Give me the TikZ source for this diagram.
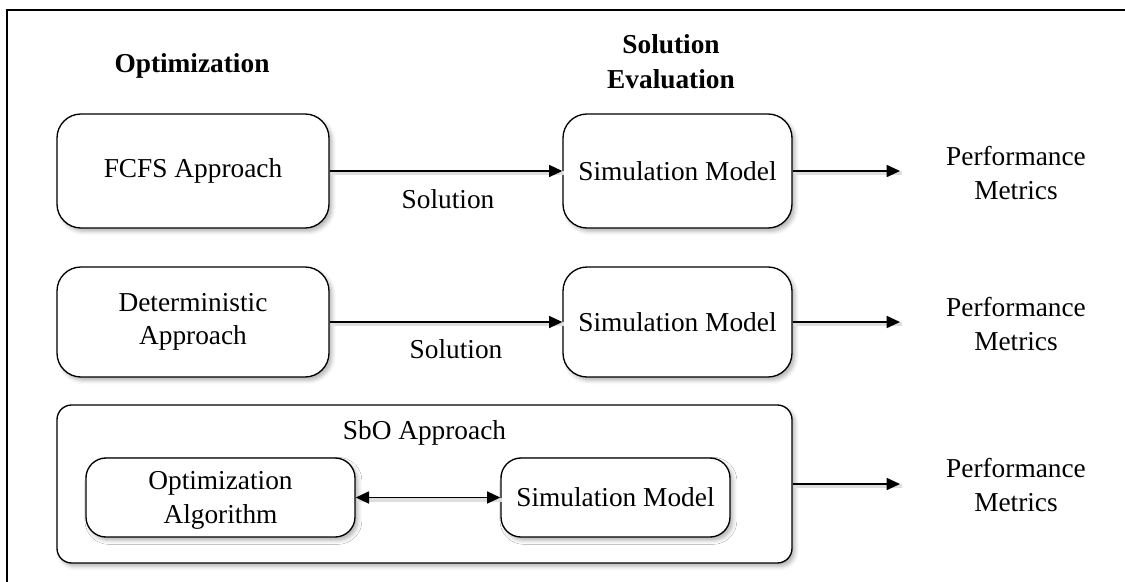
\documentclass[tikz,border=0pt]{standalone}
\usepackage{fontspec}
\setmainfont{Liberation Serif}
\usetikzlibrary{arrows.meta,shadows.blur}
\begin{document}
\begin{tikzpicture}[x=0.75pt,y=-0.75pt,
  txt/.style={font=\fontsize{20.5}{25}\selectfont, align=center, inner sep=0pt},
  hdr/.style={font=\fontsize{20.5}{26}\selectfont\bfseries, align=center, inner sep=0pt},
  rbox/.style={draw, line width=1pt, rounded corners=18pt, fill=white,
    blur shadow={shadow xshift=2.2pt, shadow yshift=-2.5pt, shadow blur radius=3pt, shadow opacity=30}, txt},
  ibox/.style={rbox, rounded corners=15pt},
  sbox/.style={rbox, rounded corners=11pt},
  lshadow/.style={preaction={draw=black!13, line width=3pt, -, transform canvas={xshift=1.2pt, yshift=-1.5pt}}},
  conn/.style={line width=1.3pt, lshadow, -{Triangle[length=10pt,width=9pt]}},
  dconn/.style={line width=1.3pt, lshadow, {Triangle[length=10pt,width=9pt]}-{Triangle[length=10pt,width=9pt]}},
]
\useasboundingbox (0,0) rectangle (1125,582);
\begin{scope}
  \clip (0,0) rectangle (1125,582);
  \draw[line width=2pt] (7,10) rectangle (1140,600);
\end{scope}

% headers
\node[hdr] (hopt) at (192,66) {Optimization};
\node[hdr] (heval) at (671,62) {Solution\\Evaluation};

% row 1
\node[rbox, minimum width=204pt, minimum height=85.5pt] (fcfs) at (193,171) {FCFS Approach};
\node[rbox, minimum width=171.75pt, minimum height=85.5pt] (sim1) at (677.5,171) {Simulation Model};
\node[txt] (pm1) at (1016,173) {Performance\\Metrics};
\coordinate (e1) at (900,171);
\draw[conn] (fcfs.east) -- (sim1.west);
\draw[conn] (sim1.east) -- (e1);
\node[txt] (sol1) at (448,199) {Solution};

% row 2
\node[rbox, minimum width=204pt, minimum height=82.5pt] (det) at (193,322) {Deterministic\\Approach};
\node[rbox, minimum width=171.75pt, minimum height=82.5pt] (sim2) at (677.5,322) {Simulation Model};
\node[txt] (pm2) at (1016,324) {Performance\\Metrics};
\coordinate (e2) at (900,322);
\draw[conn] (det.east) -- (sim2.west);
\draw[conn] (sim2.east) -- (e2);
\node[txt] (sol2) at (456,349) {Solution};

% row 3
\node[sbox, minimum width=551.25pt, minimum height=118.5pt] (sbo) at (424.5,484) {};
\node[txt] (sbol) at (424.5,433) {SbO Approach};
\node[ibox, minimum width=201.75pt, minimum height=59.25pt, text depth=0pt] (alg) at (220.5,497.5) {Optimization\\Algorithm};
\node[ibox, minimum width=171.75pt, minimum height=59.25pt] (sim3) at (615.5,497.5) {Simulation Model};
\draw[dconn] (alg.east) -- (sim3.west);
\coordinate (e3) at (900,484);
\draw[conn] (sbo.east) -- (e3);
\node[txt] (pm3) at (1016,485) {Performance\\Metrics};
\end{tikzpicture}
\end{document}
